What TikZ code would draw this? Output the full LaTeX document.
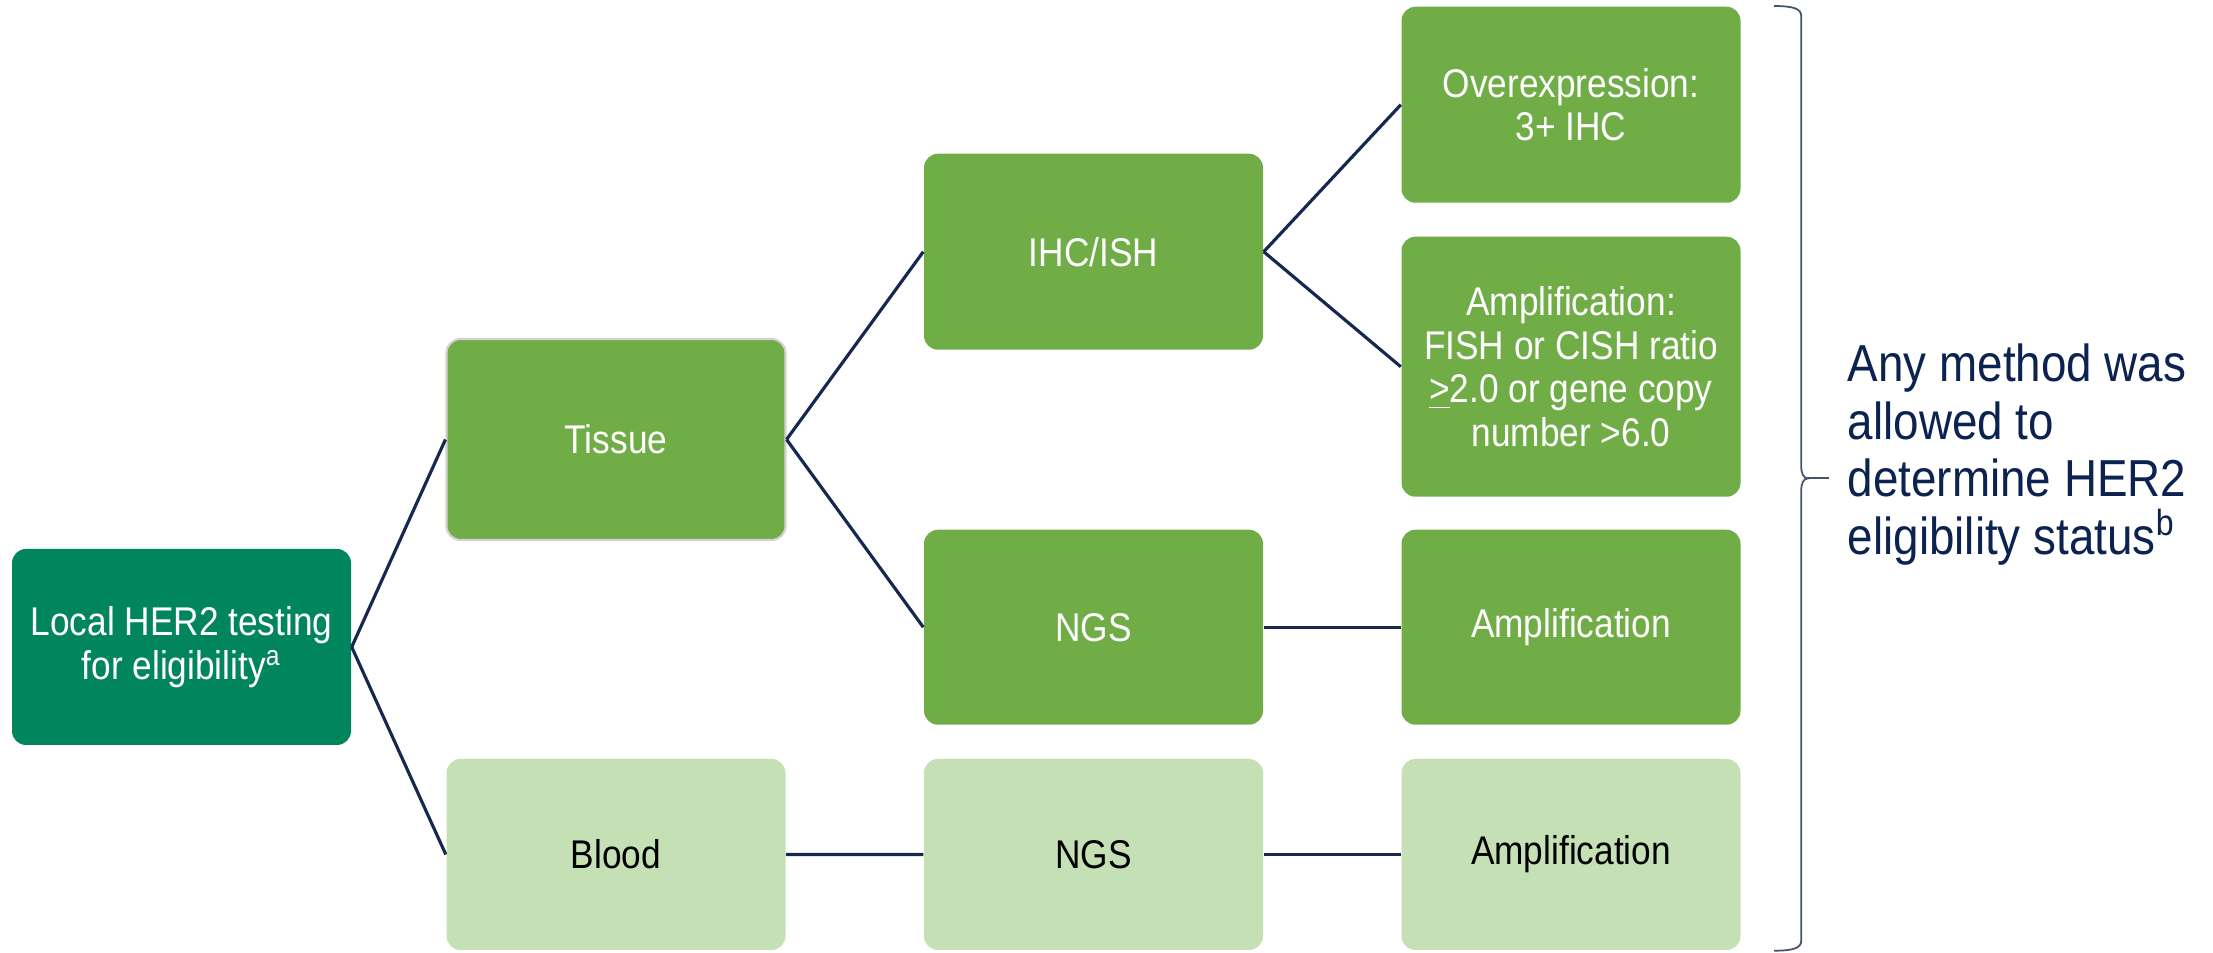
\documentclass[tikz,border=0pt]{standalone}
\usepackage{fontspec}
\usepackage{xcolor}
\usepackage{tikz}
\usetikzlibrary{trees}
\usetikzlibrary{shapes,calc,positioning}
\newfontfamily\narrowsans{Liberation Sans}[FakeStretch=0.88]
\definecolor{her2dark}{RGB}{0,133,92}
\definecolor{her2mid}{RGB}{112,173,71}
\definecolor{her2light}{RGB}{197,224,180}
\definecolor{her2line}{RGB}{22,40,80}
\definecolor{her2note}{RGB}{12,35,82}
\definecolor{her2brace}{RGB}{68,84,106}
\tikzset{
  testbox/.style={rectangle, rounded corners=0.14cm, inner sep=0pt, align=center, minimum width=3.39cm, minimum height=1.96cm, font=\narrowsans\fontsize{11.4}{12.4}\selectfont},
  dark_n/.style={testbox, fill=her2dark, text=white},
  mid_n/.style={testbox, fill=her2mid, text=white},
  light_n/.style={testbox, fill=her2light, text=black, minimum height=1.91cm},
  note_t/.style={inner sep=0pt, align=left, text=her2note, font=\narrowsans\fontsize{14.8}{16.35}\selectfont},
  brace_l/.style={draw=her2brace, line width=0.5pt}
}
\begin{document}
\begin{tikzpicture}[grow'=right,
	edge from parent path={(\tikzparentnode.east) -- (\tikzchildnode.west)},
	edge from parent/.style={draw=her2line, line width=0.9pt},
	level 1/.style={level distance=4.345cm, sibling distance=4.15cm},
	level 2/.style={level distance=4.775cm, sibling distance=3.755cm},
	level 3/.style={level distance=4.775cm, sibling distance=2.62cm}]
			\useasboundingbox[fill=white] (0,0) rectangle (22.13,9.53);
			\node (local) [dark_n] at (1.815,3.06) {Local HER2 testing\\for eligibility\textsuperscript{a}}
			 child{ node (tissue) [mid_n, minimum height=2.01cm, draw=gray!35, line width=0.6pt] {Tissue}
				child{ node (ihc) [mid_n] {IHC/ISH}
					child{ node (over) [mid_n, yshift=0.16cm] {Overexpression:\\3+ IHC}}
					child{ node (ampf) [mid_n, yshift=0.16cm, minimum height=2.6cm] {Amplification:\\FISH or CISH ratio\\\underline{>}2.0 or gene copy\\number >6.0}}
				}
				child{ node (ngst) [mid_n, minimum height=1.95cm] {NGS}
					child{ node (ampt) [mid_n, minimum height=1.95cm] {Amplification}}
				}
			 }
			 child{ node (blood) [light_n] {Blood}
				child{ node (ngsb) [light_n] {NGS}
					child{ node (ampb) [light_n] {Amplification}}
				}
			 };
			\coordinate (bt) at ([xshift=0.33cm]over.north east);
			\coordinate (bb) at ([xshift=0.33cm]ampb.south east);
			\coordinate (bm) at ($(bt)!0.5!(bb)$);
			\coordinate (btip) at ([xshift=0.55cm]bm);
			\draw[brace_l] (bt) .. controls +(0.2,0) and +(0,0.07) .. ([shift={(0.27,-0.1)}]bt)
				-- ([shift={(0.27,0.13)}]bm) .. controls +(0,-0.08) and +(-0.05,0) .. ([shift={(0.34,0)}]bm)
				.. controls +(-0.05,0) and +(0,0.08) .. ([shift={(0.27,-0.13)}]bm)
				-- ([shift={(0.27,0.1)}]bb) .. controls +(0,-0.07) and +(0.2,0) .. (bb);
			\draw[brace_l] ([xshift=0.34cm]bm) -- (btip);
			\node (note) [note_t, right=0.18cm of btip, yshift=0.24cm] {Any method was\\allowed to\\determine HER2\\eligibility status\textsuperscript{b}};
\end{tikzpicture}
\end{document}
